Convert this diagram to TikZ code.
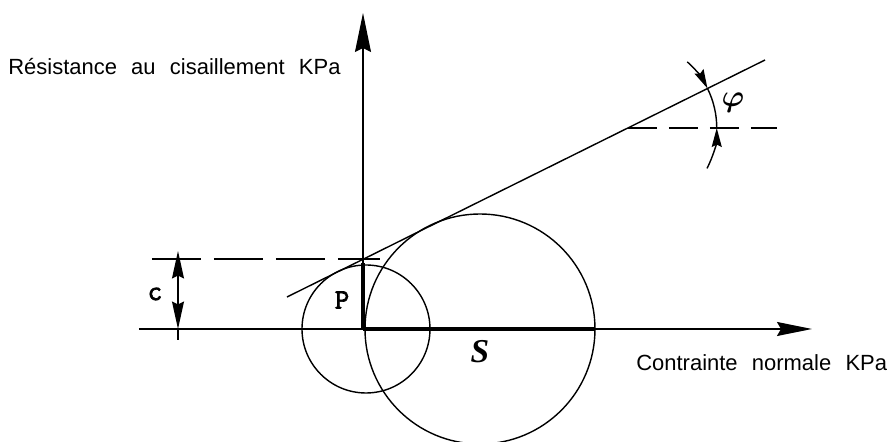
\documentclass[tikz,border=0pt]{standalone}
\usepackage{amsmath}
\usepackage{fontspec}
\setmainfont{Liberation Sans}
\newfontfamily\serfnt{Liberation Serif}
\newfontfamily\monofnt[FakeBold=2.5]{Latin Modern Mono}
\usetikzlibrary{arrows.meta}
\newcommand\axfont{\fontsize{12.5}{15}\selectfont\spaceskip=0.65em\relax}

\begin{document}
\begin{tikzpicture}[
    every node/.style={font=\axfont},
    thn/.style={line width=0.8pt},
    thk/.style={line width=2.2pt},
    axh/.style={thn, -{Stealth[length=7mm, width=2.8mm, inset=0.8mm]}},
    axv/.style={thn, -{Stealth[length=7.8mm, width=3.2mm, inset=0.8mm]}},
    dim/.style={thn, {Stealth[length=5.5mm, width=2.4mm, inset=0.6mm]}-{Stealth[length=5.5mm, width=2.4mm, inset=0.6mm]}},
    ang/.style={thn, -{Stealth[length=3.8mm, width=2mm, inset=0.5mm]}},
    dshc/.style={thn, dash pattern=on 9.8mm off 2.6mm},
    dshp/.style={thn, dash pattern=on 5.8mm off 2.4mm},
    tt/.style={font=\fontsize{16}{18}\selectfont\monofnt, inner sep=1pt},
  ]
  \useasboundingbox (-7.26,-2.26) rectangle (10.60,6.58);
  \coordinate (o) at (0,0);
  \coordinate (xl) at (-4.48,0);
  \coordinate (xr) at (8.98,0);
  \coordinate (yt) at (0,6.32);
  \coordinate (pt) at (0,1.32);
  \coordinate (st) at (4.64,0);
  \coordinate (t1) at (-1.52,0.64);
  \coordinate (t2) at (8.04,5.38);
  \coordinate (cl) at (-4.22,1.40);
  \coordinate (cr) at (0.34,1.40);
  \coordinate (cb) at (-3.70,0);
  \coordinate (ct) at (-3.70,1.56);
  \coordinate (ce) at (-3.70,-0.22);
  \coordinate (pc) at (5.295,4.02);
  \coordinate (pe) at (8.28,4.02);
  \draw[axh] (xl) -- (xr);
  \draw[axv] (o) -- (yt);
  \draw[thn] (0.06,0) circle[radius=1.28];
  \draw[thn] (2.34,0) circle[radius=2.30];
  \draw[thn] (t1) -- (t2);
  \draw[dshc] (cl) -- (cr);
  \draw[dshp] (pc) -- (pe);
  \draw[thk] (o) -- (pt);
  \draw[thk] (o) -- (st);
  \draw[dim] (cb) -- (ct);
  \draw[thn] (cb) -- (ce);
  \draw[thn] ([shift={(0:1.78)}]pc) arc[start angle=0, end angle=26.4, radius=1.78];
  \draw[ang] ([shift={(48:1.78)}]pc) arc[start angle=48, end angle=26.4, radius=1.78];
  \draw[ang] ([shift={(-27:1.78)}]pc) arc[start angle=-27, end angle=0, radius=1.78];
  \node[anchor=west, inner sep=0] (ylbl) at (-7.10,5.24) {Résistance au cisaillement KPa};
  \node[anchor=west, inner sep=0] (xlbl) at (5.46,-0.68) {Contrainte normale KPa};
  \node[tt] (clbl) at (-4.16,0.70) {c};
  \node[tt] (plbl) at (-0.42,0.58) {P};
  \node[font=\fontsize{19}{22}\selectfont\serfnt\bfseries\itshape] (slbl) at (2.34,-0.46) {S};
  \node[font=\fontsize{17}{19}\selectfont] (phi) at (7.40,4.52) {$\boldsymbol{\varphi}$};
\end{tikzpicture}
\end{document}
